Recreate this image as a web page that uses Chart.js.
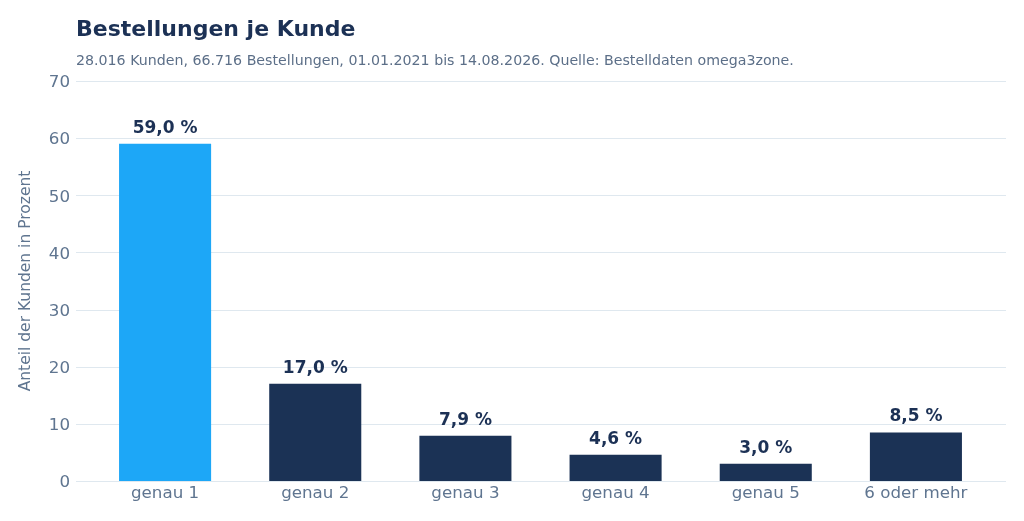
<!DOCTYPE html>
<html>
<head>
<meta charset="utf-8">
<script src="https://cdn.jsdelivr.net/npm/chart.js@4"></script>
<style>
  html, body { margin: 0; padding: 0; background: #fff; }
  #wrap { width: 1024px; height: 521px; }
</style>
</head>
<body>
<div id="wrap"><canvas id="chart" width="1024" height="521"></canvas></div>
<script>
// Bestellungen je Kunde
const categories = ['genau 1', 'genau 2', 'genau 3', 'genau 4', 'genau 5', '6 oder mehr'];
const shares = [59.0, 17.0, 7.9, 4.6, 3.0, 8.5];
const barColors = ['#1da7f7', '#1b3255', '#1b3255', '#1b3255', '#1b3255', '#1b3255'];
const yTicks = [0, 10, 20, 30, 40, 50, 60, 70];

const titleText = 'Bestellungen je Kunde';
const subtitleText = '28.016 Kunden, 66.716 Bestellungen, 01.01.2021 bis 14.08.2026. Quelle: Bestelldaten omega3zone.';

const FONT = "'DejaVu Sans', sans-serif";
const GRID_LEFT = 76;
const GRID_RIGHT = 1006;

const headerPlugin = {
  id: 'header',
  afterDraw(chart) {
    const { ctx } = chart;
    ctx.save();
    ctx.textAlign = 'left';
    ctx.textBaseline = 'alphabetic';
    ctx.fillStyle = '#1c3155';
    ctx.font = 'bold 22px ' + FONT;
    ctx.fillText(titleText, GRID_LEFT, 36);
    ctx.fillStyle = '#5c6f88';
    ctx.font = '14.2px ' + FONT;
    ctx.fillText(subtitleText, GRID_LEFT, 65);
    ctx.restore();
  }
};

// horizontal grid lines, a bit wider than the bar area
const gridPlugin = {
  id: 'wideGrid',
  beforeDatasetsDraw(chart) {
    const { ctx } = chart;
    const y = chart.scales.y;
    ctx.save();
    ctx.strokeStyle = '#dfe8ef';
    ctx.lineWidth = 1;
    yTicks.forEach(v => {
      const py = Math.round(y.getPixelForValue(v)) + 0.5;
      ctx.beginPath();
      ctx.moveTo(GRID_LEFT, py);
      ctx.lineTo(GRID_RIGHT, py);
      ctx.stroke();
    });
    ctx.restore();
  }
};

const valueLabels = {
  id: 'valueLabels',
  afterDatasetsDraw(chart) {
    const { ctx } = chart;
    const meta = chart.getDatasetMeta(0);
    ctx.save();
    ctx.textAlign = 'center';
    ctx.textBaseline = 'alphabetic';
    ctx.fillStyle = '#1c3155';
    ctx.font = 'bold 17px ' + FONT;
    meta.data.forEach((bar, i) => {
      const txt = shares[i].toFixed(1).replace('.', ',') + ' %';
      ctx.fillText(txt, bar.x, bar.y - 11);
    });
    ctx.restore();
  }
};

new Chart(document.getElementById('chart'), {
  type: 'bar',
  data: {
    labels: categories,
    datasets: [{
      data: shares,
      backgroundColor: barColors,
      borderWidth: 0,
      categoryPercentage: 0.613,
      barPercentage: 1.0
    }]
  },
  options: {
    responsive: false,
    animation: false,
    devicePixelRatio: 1,
    layout: { padding: { top: 81, right: 33, bottom: 0, left: 17 } },
    plugins: {
      legend: { display: false },
      tooltip: { enabled: false }
    },
    scales: {
      x: {
        grid: { display: false, drawTicks: false },
        border: { display: false },
        ticks: { color: '#5f7590', font: { family: FONT, size: 16.7 }, padding: 3 },
        afterFit(scale) { scale.height = 40; }
      },
      y: {
        min: 0,
        max: 70,
        afterBuildTicks(scale) { scale.ticks = yTicks.map(v => ({ value: v })); },
        grid: { display: false, drawTicks: false },
        border: { display: false },
        ticks: { color: '#5f7590', font: { family: FONT, size: 16.7 }, padding: 20, labelOffset: 2 },
        title: {
          display: true,
          text: 'Anteil der Kunden in Prozent',
          color: '#5f7590',
          font: { family: FONT, size: 15.5 },
          padding: { top: 0, bottom: 0 }
        },
        afterFit(scale) { scale.width = 73; }
      }
    }
  },
  plugins: [gridPlugin, headerPlugin, valueLabels]
});
</script>
</body>
</html>
